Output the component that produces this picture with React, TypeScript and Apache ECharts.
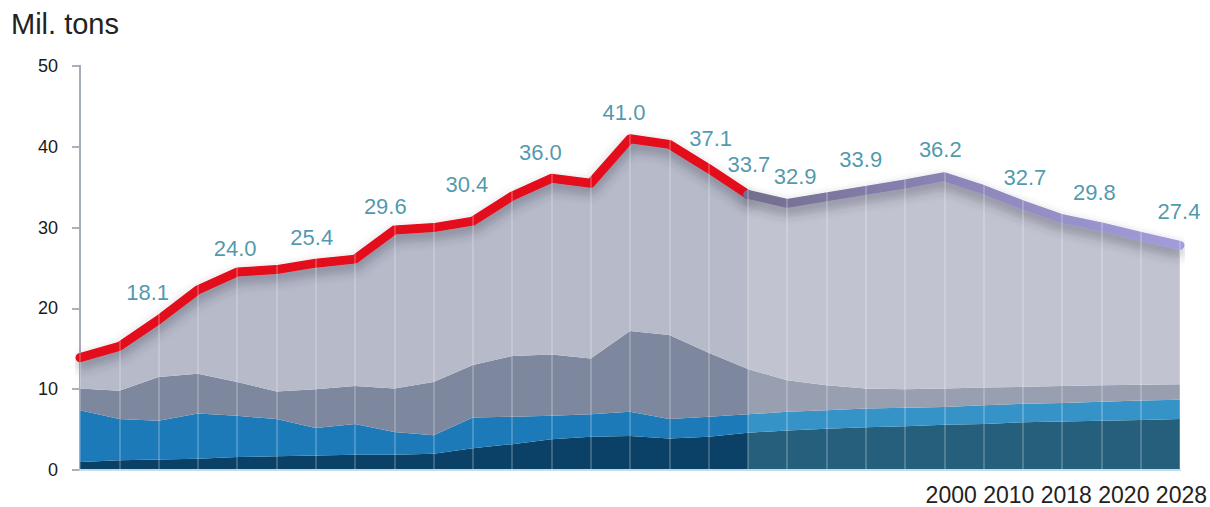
import React, { useEffect, useRef } from "react";
import * as echarts from "echarts";

// ---- data ----
const categories = Array.from({ length: 29 }, (_, i) => String(i + 1));
const darkLayer = [1.0, 1.2, 1.3, 1.4, 1.6, 1.7, 1.8, 1.9, 1.9, 2.0, 2.7, 3.2, 3.8, 4.1, 4.2, 3.9, 4.1, 4.6, 4.9, 5.1, 5.3, 5.4, 5.6, 5.7, 5.9, 6.0, 6.1, 6.2, 6.3];
const blueLayer = [6.4, 5.1, 4.8, 5.6, 5.1, 4.6, 3.4, 3.8, 2.8, 2.3, 3.8, 3.4, 2.9, 2.8, 3.0, 2.4, 2.5, 2.3, 2.3, 2.3, 2.3, 2.3, 2.2, 2.3, 2.3, 2.3, 2.35, 2.4, 2.4];
const slateLayer = [2.7, 3.5, 5.4, 4.9, 4.2, 3.4, 4.8, 4.7, 5.4, 6.6, 6.5, 7.5, 7.6, 6.9, 10.0, 10.4, 7.9, 5.6, 3.9, 3.1, 2.5, 2.3, 2.3, 2.2, 2.1, 2.1, 2.05, 1.95, 1.9];
const totalVolume = [13.9, 15.3, 18.6, 22.3, 24.5, 24.8, 25.6, 26.1, 29.7, 30.0, 30.8, 33.9, 36.1, 35.5, 41.0, 40.3, 37.3, 34.1, 33.0, 33.8, 34.6, 35.4, 36.3, 34.7, 32.8, 31.1, 30.1, 28.9, 27.8];
const labelIndex = [2, 4, 6, 8, 10, 12, 14, 16, 17, 18, 20, 22, 24, 26, 28];
const labelText = ["18.1", "24.0", "25.4", "29.6", "30.4", "36.0", "41.0", "37.1", "33.7", "32.9", "33.9", "36.2", "32.7", "29.8", "27.4"];
const projectionStart = 17;
const yearLabels = ["2000", "2010", "2018", "2020", "2028"];
const unitLabel = "Mil. tons";

// ---- styling ----
const labelNudge: [number, number][] = [
  [-11, -27], [-2, -23], [-4, -25], [-9, -23], [-6, -36], [-11, -25], [-6, -26],
  [2, -30], [1, -29], [8, -26], [-5, -30], [-4, -27], [2, -27], [-7, -34], [-1, -33],
];
const FONT = "'Liberation Sans', Arial, Helvetica, sans-serif";

function splitFill(histColor: string, projColor: string) {
  const s = projectionStart / (categories.length - 1);
  return new echarts.graphic.LinearGradient(0, 0, 1, 0, [
    { offset: 0, color: histColor },
    { offset: s, color: histColor },
    { offset: s + 0.0001, color: projColor },
    { offset: 1, color: projColor },
  ]);
}

export default function App() {
  const ref = useRef<HTMLDivElement>(null);

  useEffect(() => {
    if (!ref.current) return;
    const chart = echarts.init(ref.current, undefined, { renderer: "svg" });

    const sumBelow = darkLayer.map((d, i) => d + blueLayer[i] + slateLayer[i]);
    const topLayer = totalVolume.map((t, i) => +(t - sumBelow[i]).toFixed(2));

    const areaBase = {
      type: "line",
      stack: "vol",
      symbol: "none",
      silent: true,
      lineStyle: { width: 0 },
      z: 2,
    };

    const redData = totalVolume.map((v, i) => (i <= projectionStart ? v : null));
    const purpleData = totalVolume.map((v, i) => (i >= projectionStart ? v : null));

    const lineShadow = {
      shadowColor: "rgba(50,50,70,0.45)",
      shadowBlur: 12,
      shadowOffsetY: 6,
    };

    chart.setOption({
      animation: false,
      backgroundColor: "#ffffff",
      grid: { left: 80, right: 30, top: 66, bottom: 37 },
      xAxis: {
        type: "category",
        data: categories,
        boundaryGap: false,
        axisLabel: { show: false },
        axisTick: { show: false },
        axisLine: { show: true, lineStyle: { color: "#c3dde8", width: 2 } },
        splitLine: { show: false },
        z: 5,
      },
      yAxis: {
        type: "value",
        min: 0,
        max: 50,
        interval: 10,
        axisLine: { show: true, lineStyle: { color: "#8e97a8", width: 2 } },
        axisTick: { show: true, length: 8, lineStyle: { color: "#8e97a8", width: 1.5 } },
        axisLabel: { color: "#1a1a1a", fontSize: 18, fontFamily: FONT, margin: 22 },
        splitLine: { show: false },
      },
      graphic: [
        {
          type: "text",
          left: 11,
          top: 9,
          style: { text: unitLabel, fontSize: 29, fontFamily: FONT, fill: "#222" },
        },
        {
          type: "text",
          x: 1207,
          y: 495,
          style: {
            text: yearLabels.join(" "),
            fontSize: 23,
            lineHeight: 22,
            fontFamily: FONT,
            fill: "#222",
            align: "right",
            verticalAlign: "middle",
          },
        },
      ],
      series: [
        { ...areaBase, name: "dark", data: darkLayer, areaStyle: { opacity: 1, color: splitFill("#0b4166", "#265f7c") } },
        { ...areaBase, name: "blue", data: blueLayer, areaStyle: { opacity: 1, color: splitFill("#1c7ab8", "#3593c8") } },
        { ...areaBase, name: "slate", data: slateLayer, areaStyle: { opacity: 1, color: splitFill("#7d889e", "#989fb0") } },
        { ...areaBase, name: "rest", data: topLayer, areaStyle: { opacity: 1, color: splitFill("#b6bac9", "#c1c3d0") } },
        {
          type: "line",
          name: "separators",
          data: totalVolume,
          symbol: "none",
          silent: true,
          lineStyle: { opacity: 0 },
          z: 3,
          markLine: {
            silent: true,
            symbol: "none",
            label: { show: false },
            lineStyle: { color: "rgba(255,255,255,0.28)", width: 1.5, type: "solid" },
            data: categories.map((c) => ({ xAxis: c })),
          },
        },
        {
          type: "line",
          name: "historic",
          data: redData,
          symbol: "none",
          connectNulls: false,
          z: 4,
          lineStyle: { color: "#e3101d", width: 9, cap: "round", join: "round", ...lineShadow },
        },
        {
          type: "line",
          name: "projection",
          data: purpleData,
          symbol: "none",
          connectNulls: false,
          z: 4,
          lineStyle: {
            width: 9,
            cap: "round",
            join: "round",
            color: new echarts.graphic.LinearGradient(0, 0, 1, 0, [
              { offset: 0, color: "#736e8e" },
              { offset: 0.45, color: "#8a84b6" },
              { offset: 1, color: "#a29cdb" },
            ]),
            ...lineShadow,
          },
        },
        {
          type: "scatter",
          name: "labels",
          silent: true,
          symbolSize: 1,
          itemStyle: { color: "rgba(0,0,0,0)" },
          z: 6,
          data: labelIndex.map((idx, k) => ({
            value: [idx, totalVolume[idx]],
            label: {
              show: true,
              position: "top",
              distance: 0,
              offset: [labelNudge[k][0], labelNudge[k][1] + 11],
              formatter: labelText[k],
              color: "#1f7e98",
              fontSize: 22,
              lineHeight: 22,
              fontFamily: FONT,
            },
          })),
        },
      ],
    });

    return () => chart.dispose();
  }, []);

  return (
    <div
      ref={ref}
      style={{ position: "fixed", left: 0, top: 0, width: 1210, height: 507, background: "#fff" }}
    />
  );
}
